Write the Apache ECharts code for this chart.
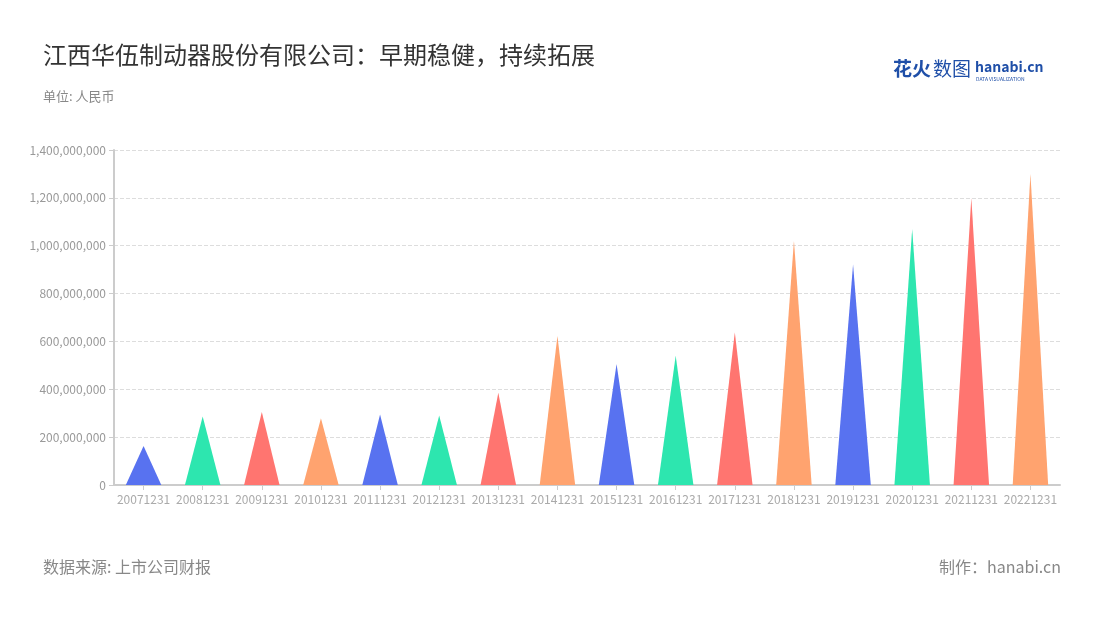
<!DOCTYPE html>
<html><head><meta charset="utf-8">
<script src="https://cdn.jsdelivr.net/npm/echarts@6/dist/echarts.min.js"></script>
<style>html,body{margin:0;padding:0;background:#fff}#c{width:1100px;height:620px}</style>
</head><body><div id="c"></div>
<script>
const categories = ['20071231','20081231','20091231','20101231','20111231','20121231','20131231','20141231','20151231','20161231','20171231','20181231','20191231','20201231','20211231','20221231'];
const values = [163000000,286000000,305000000,279000000,295000000,290000000,386000000,623000000,506000000,540000000,638000000,1021000000,921000000,1070000000,1198000000,1300000000];
const palette = ['#5872F0','#2DE6AF','#FF7570','#FFA36F'];
const yTicks = {min:0, max:1400000000, interval:200000000};

const chart = echarts.init(document.getElementById('c'));
const font = '"Noto Sans CJK SC","Noto Sans",sans-serif';
chart.setOption({
  textStyle:{fontFamily:font},
  title:[
    {text:'江西华伍制动器股份有限公司：早期稳健，持续拓展', left:38, top:38, textStyle:{fontSize:24, fontWeight:'normal', color:'#333', fontFamily:font}},
    {text:'单位: 人民币', left:38, top:85, textStyle:{fontSize:13, fontWeight:'normal', color:'#888', fontFamily:font}},
    {text:'数据来源: 上市公司财报', left:38, top:554, textStyle:{fontSize:16, fontWeight:'normal', color:'#888', fontFamily:font}},
    {text:'制作：hanabi.cn', right:34, top:554, textStyle:{fontSize:16, fontWeight:'normal', color:'#888', fontFamily:font}}
  ],
  graphic:[
    {type:'text', left:893, top:59, style:{text:'花火', fontSize:19, fontWeight:'bold', fill:'#1f4fa8', fontFamily:font}},
    {type:'text', left:933, top:59, style:{text:'数图', fontSize:19, fill:'#1f4fa8', fontFamily:font}},
    {type:'text', left:975, top:60, style:{text:'hanabi.cn', fontSize:14, fontWeight:'bold', fill:'#1f4fa8', fontFamily:font}},
    {type:'text', left:976, top:77, style:{text:'DATA VISUALIZATION', fontSize:5, fill:'#1f4fa8', fontFamily:font}}
  ],
  grid:{left:114, right:40, top:150, bottom:135, containLabel:false},
  xAxis:{
    type:'category', data:categories,
    axisLine:{lineStyle:{color:'#ccc', width:2}},
    axisTick:{show:true, alignWithLabel:true, lineStyle:{color:'#ccc'}},
    axisLabel:{color:'#aaa', fontSize:12, interval:0, margin:8}
  },
  yAxis:{
    type:'value', min:yTicks.min, max:yTicks.max, interval:yTicks.interval,
    axisLine:{show:true, lineStyle:{color:'#ccc', width:2}},
    axisTick:{show:true, lineStyle:{color:'#ccc'}},
    axisLabel:{color:'#999', fontSize:12, formatter:v=>v.toLocaleString('en-US')},
    splitLine:{lineStyle:{type:'dashed', color:'#ddd'}}
  },
  series:[{
    type:'pictorialBar', symbol:'triangle', barCategoryGap:'0%',
    symbolSize:['60%','100%'],
    data:values.map((v,i)=>({value:v, itemStyle:{color:palette[i%4]}})),
    label:{show:false}
  }]
});
</script></body></html>
